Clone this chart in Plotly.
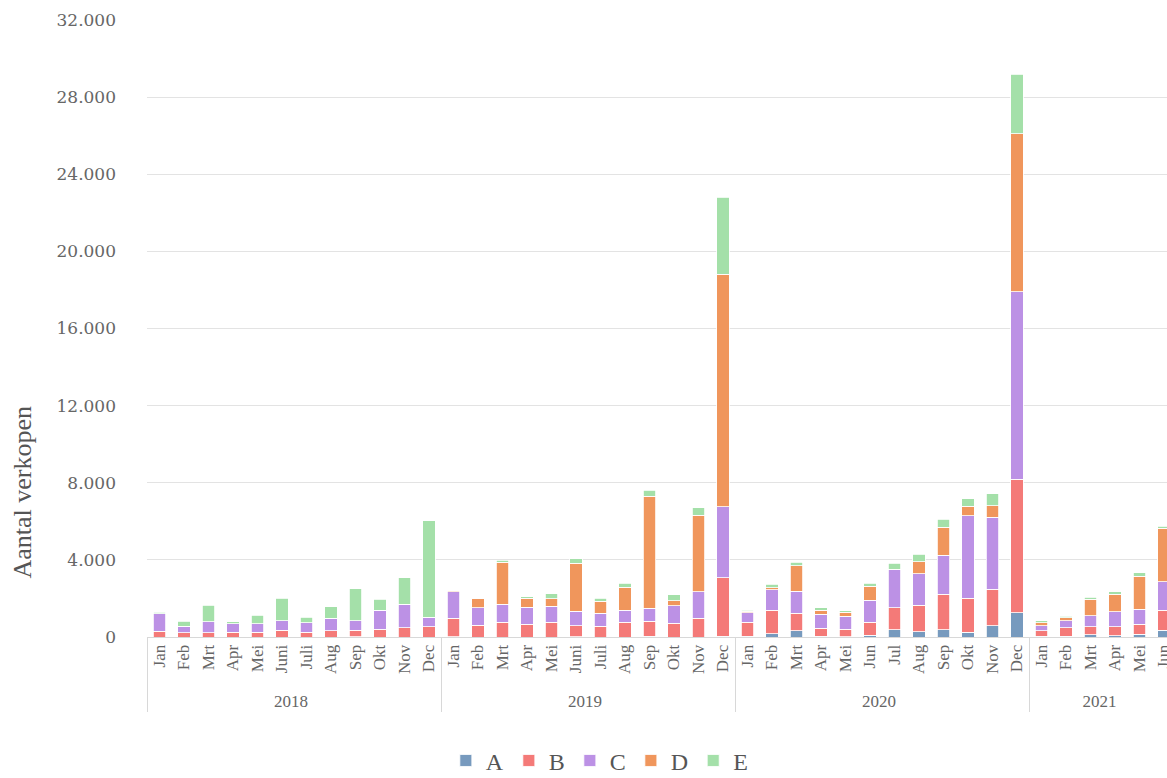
import plotly.graph_objects as go

# Monthly sales per category, stacked per month
years = ["2018", "2019", "2020", "2021"]
months_2018 = ["Jan", "Feb", "Mrt", "Apr", "Mei", "Juni", "Juli", "Aug", "Sep", "Okt", "Nov", "Dec"]
months_2019 = ["Jan", "Feb", "Mrt", "Apr", "Mei", "Juni", "Juli", "Aug", "Sep", "Okt", "Nov", "Dec"]
months_2020 = ["Jan", "Feb", "Mrt", "Apr", "Mei", "Jun", "Jul", "Aug", "Sep", "Okt", "Nov", "Dec"]
months_2021 = ["Jan", "Feb", "Mrt", "Apr", "Mei", "Jun"]

series_a = [0, 0, 0, 0, 0, 0, 0, 0, 10, 0, 0, 0,
            20, 0, 0, 0, 0, 15, 0, 0, 40, 0, 0, 35,
            35, 175, 330, 35, 10, 85, 365, 280, 365, 245, 590, 1265,
            50, 50, 105, 70, 140, 350]
series_b = [310, 230, 220, 240, 240, 340, 240, 325, 330, 400, 485, 520,
            950, 600, 760, 660, 760, 560, 555, 765, 765, 710, 970, 3045,
            730, 1200, 905, 420, 380, 680, 1165, 1355, 1845, 1755, 1895, 6910,
            280, 420, 435, 470, 520, 1025]
series_c = [890, 330, 560, 450, 435, 500, 505, 645, 505, 990, 1220, 505,
            1375, 920, 940, 890, 835, 750, 680, 625, 695, 920, 1375, 3670,
            505, 1080, 1130, 730, 695, 1150, 1950, 1635, 2035, 4295, 3720, 9730,
            260, 380, 575, 765, 780, 1480]
series_d = [0, 0, 0, 0, 0, 0, 0, 0, 0, 0, 0, 0,
            90, 480, 2175, 450, 400, 2500, 610, 1185, 5810, 260, 3980, 12075,
            70, 105, 1340, 210, 190, 710, 35, 625, 1445, 490, 590, 8185,
            155, 155, 835, 905, 1705, 2780]
series_e = [80, 245, 870, 90, 450, 1165, 280, 590, 1670, 575, 1375, 5010,
            0, 20, 105, 90, 245, 245, 175, 210, 310, 295, 385, 3970,
            50, 175, 175, 120, 90, 155, 310, 400, 415, 380, 625, 3090,
            90, 70, 105, 140, 175, 105]

series_names = ["A", "B", "C", "D", "E"]
series_colors = ["#779ABE", "#F47A78", "#BC91E5", "#F0965C", "#A4E0A9"]

month_lists = [months_2018, months_2019, months_2020, months_2021]
x_years = [y for y, ms in zip(years, month_lists) for _ in ms]
x_months = [m for ms in month_lists for m in ms]

# Plotly orders the inner categories by first appearance, so feed the points
# month by month (all years together) to keep "Jun"/"Jul" next to "Juni"/"Juli".
month_rank = ["Jan", "Feb", "Mrt", "Apr", "Mei", "Juni", "Jun", "Juli", "Jul",
              "Aug", "Sep", "Okt", "Nov", "Dec"]
order = sorted(range(len(x_months)),
               key=lambda i: (month_rank.index(x_months[i]), x_years[i]))
xy = [[x_years[i] for i in order], [x_months[i] for i in order]]

fig = go.Figure()
for name, color, values in zip(series_names, series_colors,
                               [series_a, series_b, series_c, series_d, series_e]):
    fig.add_trace(go.Bar(
        x=xy, y=[values[i] for i in order], name=name,
        marker=dict(color=color, line=dict(color="white", width=0.8)),
    ))

grey = "#666666"
serif = "Liberation Serif"

fig.update_layout(
    barmode="stack",
    bargap=0.49,
    width=1167, height=778,
    autosize=False,
    margin=dict(l=147, r=0, t=20, b=141),
    paper_bgcolor="white", plot_bgcolor="white",
    separators=",.",
    font=dict(family=serif, color=grey),
    legend=dict(
        orientation="h",
        xref="container", yref="container",
        x=0.514, xanchor="center",
        y=0.022, yanchor="middle",
        font=dict(family=serif, size=24, color="#555555"),
        itemwidth=30,
        traceorder="normal",
    ),
    showlegend=True,
    annotations=[dict(
        text="Aantal verkopen", textangle=-90,
        xref="paper", yref="paper",
        x=-0.123, y=0.235, xanchor="center", yanchor="middle",
        showarrow=False,
        font=dict(family=serif, size=26, color="#555555"),
    )],
)

fig.update_xaxes(
    type="multicategory",
    range=[-0.5, 41.13],
    tickangle=-90,
    tickfont=dict(family=serif, size=17, color=grey),
    showline=True, linecolor="#d8d8d8", linewidth=1,
    showdividers=True, dividercolor="#d8d8d8", dividerwidth=1,
    showgrid=False, ticks="",
)

fig.update_yaxes(
    range=[0, 32000],
    dtick=4000,
    tickformat=",d",
    showgrid=True, gridcolor="#e3e3e3", gridwidth=1,
    zeroline=False,
    tickfont=dict(family="DejaVu Serif", size=17, color=grey),
    ticklabelstandoff=30,
)

fig.write_html("out.html")
